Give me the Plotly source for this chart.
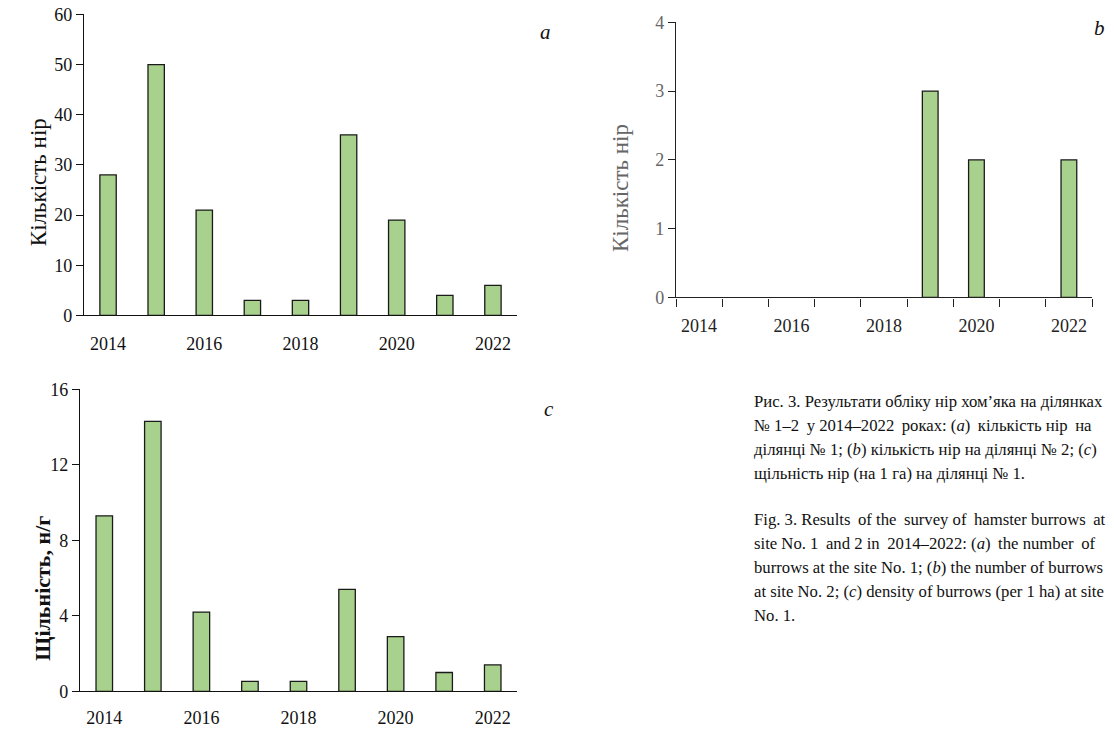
import plotly.graph_objects as go

years = [2014, 2015, 2016, 2017, 2018, 2019, 2020, 2021, 2022]
burrows_site1 = [28, 50, 21, 3, 3, 36, 19, 4, 6]
burrows_site2 = [0, 0, 0, 0, 0, 3, 2, 0, 2]
density_site1 = [9.3, 14.3, 4.2, 0.53, 0.53, 5.4, 2.9, 1.0, 1.4]
tick_years = [2014, 2016, 2018, 2020, 2022]
tick_labels = [str(y) for y in tick_years]
boundaries = [y - 0.5 for y in years] + [years[-1] + 0.5]

W, H = 1114, 732
def px(x):
    return x / W
def py(y):
    return 1 - y / H

FONT = "Liberation Serif, Times New Roman, DejaVu Serif, serif"
BAR_FILL = "#A9D18E"
BAR_LINE = "#1a1a1a"

def bar(vals, xa, ya):
    return go.Bar(x=years, y=vals, xaxis=xa, yaxis=ya, width=0.34,
                  marker=dict(color=BAR_FILL,
                              line=dict(color=BAR_LINE,
                                        width=[1.3 if v > 0 else 0 for v in vals])))

fig = go.Figure()
fig.add_trace(bar(burrows_site1, "x", "y"))
fig.add_trace(bar(burrows_site2, "x2", "y2"))
fig.add_trace(bar(density_site1, "x3", "y3"))

tickfont = dict(family=FONT, size=18, color="#111111")
xr = [years[0] - 0.5, years[-1] + 0.5]

common_x = dict(range=xr, tickmode="array", tickvals=tick_years, ticktext=tick_labels,
                showgrid=False, zeroline=False, showline=True, linecolor="#111111",
                linewidth=1.3, ticks="", tickfont=tickfont)
common_y = dict(showgrid=False, zeroline=False, showline=True, linecolor="#111111",
                linewidth=1.3, ticks="outside", ticklen=7, tickcolor="#111111",
                tickfont=tickfont)

fig.update_layout(
    width=W, height=H, margin=dict(l=0, r=0, t=0, b=0),
    paper_bgcolor="white", plot_bgcolor="white", showlegend=False,
    xaxis=dict(domain=[px(84), px(517)], anchor="y", ticklabelstandoff=12, **common_x),
    yaxis=dict(domain=[py(314), py(4.5)], anchor="x", range=[0, 60], dtick=10, **common_y),
    xaxis2=dict(domain=[px(676), px(1092)], anchor="y2", ticklabelstandoff=12,
                **{**common_x, "tickfont": dict(family=FONT, size=18, color="#222222"),
                   "linecolor": "#222222"},
                minor=dict(tickmode="array", tickvals=boundaries, ticks="outside",
                           ticklen=8, tickcolor="#222222", showgrid=False)),
    yaxis2=dict(domain=[py(295.5), py(12.6)], anchor="x2", range=[0, 4], dtick=1,
                **{**common_y, "tickfont": dict(family=FONT, size=18, color="#666666"),
                   "linecolor": "#222222", "tickcolor": "#222222"}),
    xaxis3=dict(domain=[px(80), px(517)], anchor="y3", ticklabelstandoff=10, **common_x),
    yaxis3=dict(domain=[py(700.5), py(390)], anchor="x3", range=[0, 16], dtick=4, **common_y),
)

annotations = [
    dict(text="Кількість нір", x=px(38), y=py(177), textangle=-90,
         font=dict(family=FONT, size=23, color="#111111")),
    dict(text="Кількість нір", x=px(620), y=py(183), textangle=-90,
         font=dict(family=FONT, size=23, color="#666666")),
    dict(text="<b>Щільність, н/г</b>", x=px(43), y=py(595), textangle=-90,
         font=dict(family=FONT, size=22, color="#111111")),
    dict(text="<i>a</i>", x=px(545), y=py(23), font=dict(family=FONT, size=21, color="#111111")),
    dict(text="<i>b</i>", x=px(1099), y=py(18), font=dict(family=FONT, size=21, color="#111111")),
    dict(text="<i>c</i>", x=px(549), y=py(410), font=dict(family=FONT, size=21, color="#111111")),
]

T = " \u2009"  # slightly wider word gap, to approximate the justified caption
caption_ua = [
    "Рис. 3. Результати обліку нір хом’яка на ділянках",
    f"№ 1–2{T}у 2014–2022{T}роках: (<i>a</i>){T}кількість нір{T}на",
    "ділянці № 1; (<i>b</i>) кількість нір на ділянці № 2; (<i>c</i>)",
    "щільність нір (на 1 га) на ділянці № 1.",
]
caption_en = [
    f"Fig. 3. Results{T}of the{T}survey of{T}hamster burrows{T}at",
    f"site No. 1{T}and 2 in{T}2014–2022: (<i>a</i>){T}the number{T}of",
    "burrows at the site No. 1; (<i>b</i>) the number of burrows",
    "at site No. 2; (<i>c</i>) density of burrows (per 1 ha) at site",
    "No. 1.",
]
for i, line in enumerate(caption_ua):
    annotations.append(dict(text=line, x=px(752), y=py(402.5 + 24.7 * i), xanchor="left",
                            font=dict(family=FONT, size=16.7, color="#111111")))
for i, line in enumerate(caption_en):
    annotations.append(dict(text=line, x=px(752), y=py(524 + 24.7 * i), xanchor="left",
                            font=dict(family=FONT, size=16.7, color="#111111")))

for a in annotations:
    a.setdefault("xref", "paper")
    a.setdefault("yref", "paper")
    a.setdefault("showarrow", False)
    a.setdefault("yanchor", "middle")
    a.setdefault("xanchor", "center")
fig.update_layout(annotations=annotations)

fig.write_html("out.html", config={"displayModeBar": False},
               post_script="document.body.style.margin='0';document.body.style.overflow='hidden';")
